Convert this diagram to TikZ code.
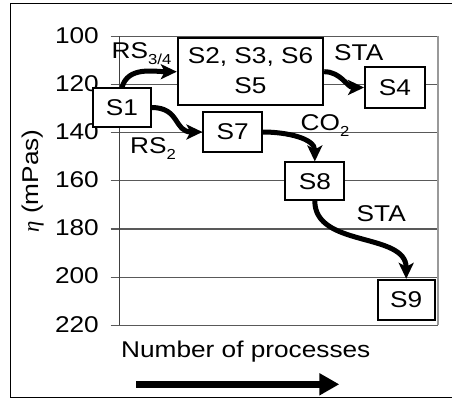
\documentclass[tikz,border=0pt]{standalone}
\usepackage{fontspec}
\setmainfont[FakeStretch=1.15]{Liberation Sans}
\usetikzlibrary{arrows.meta}
\newcommand\lowsub[1]{\raisebox{-6.5pt}{\fontsize{14.5}{15}\selectfont #1}}
\begin{document}
\begin{tikzpicture}[x=1pt,y=-1pt,
  every node/.style={font=\fontsize{22.8}{27}\selectfont, inner sep=0pt},
  box/.style={draw=black, line width=1.8pt, fill=white, inner sep=0pt},
  flow/.style={line width=5pt, -{Stealth[length=16pt,width=15pt,inset=4pt]}},
  gridline/.style={draw=black!65, line width=1.1pt},
  lbl/.style={anchor=base west}]
\useasboundingbox (0,0) rectangle (452,402);
% outer frame (right edge falls outside the page)
\draw[line width=1pt] (10.7,3.3) rectangle (455,397.5);
% grid and ticks
\foreach \v in {100,120,...,220}{
  \pgfmathsetmacro\yy{36.3+(\v-100)*2.4083}
  \draw[gridline] (110.7,\yy) -- (437.7,\yy);
  \node[anchor=east] (t\v) at (99,\yy-1) {\v};
}
\draw[black!75, line width=1.1pt] (119.3,36.3) -- (119.3,325.3);
\draw[black!40, line width=1.6pt] (437.7,36.3) -- (437.7,325.3);
% y label
\node[rotate=90] (ylab) at (33,181) {{\fontspec{Liberation Serif}\itshape η} (mPas)};
% boxes
\node[box, minimum width=57.4pt, minimum height=38.4pt] (S1) at (122,107.5) {S1};
\node[box, minimum width=145.6pt, minimum height=66.7pt] (S2box) at (250.5,71.7) {};
\node[anchor=base] (S2txt) at (250.5,63.3) {S2, S3, S6};
\node[anchor=base] (S5txt) at (250.5,93.3) {S5};
\node[box, minimum width=59.7pt, minimum height=40.4pt] (S4) at (394.8,87.5) {S4};
\node[box, minimum width=58.7pt, minimum height=40.6pt] (S7) at (232.7,132) {S7};
\node[box, minimum width=59pt, minimum height=37.7pt] (S8) at (314.8,181.2) {S8};
\node[box, minimum width=57pt, minimum height=40.6pt] (S9) at (406.2,300) {S9};
% arrows
\draw[flow] (S1.north) to[out=75,in=180] (S2box.west);
\draw[flow] (S1.east) to[out=0,in=180,looseness=1.3] (S7.west);
\draw[flow] (S2box.east) to[out=0,in=180] (S4.west);
\draw[flow] (S7.east) to[out=0,in=90] (S8.north);
\draw[flow] (S8.south) to[out=-90,in=90] (S9.north);
% labels
\node[lbl] (rs34) at (111.5,58.3) {RS\lowsub{3/4}};
\node[lbl] (rs2) at (130,153.3) {RS\lowsub{2}};
\node[lbl] (sta1) at (334,60) {STA};
\node[lbl] (co2) at (300.5,130) {CO\lowsub{2}};
\node[lbl] (sta2) at (356.5,221) {STA};
\node[lbl] (xlab) at (121,357.7) {Number of processes};
% bottom arrow
\coordinate (ba) at (136,384.3);
\coordinate (bb) at (339.3,384.3);
\draw[line width=7pt, -{Triangle[length=20pt,width=21pt]}] (ba) -- (bb);
\end{tikzpicture}
\end{document}
